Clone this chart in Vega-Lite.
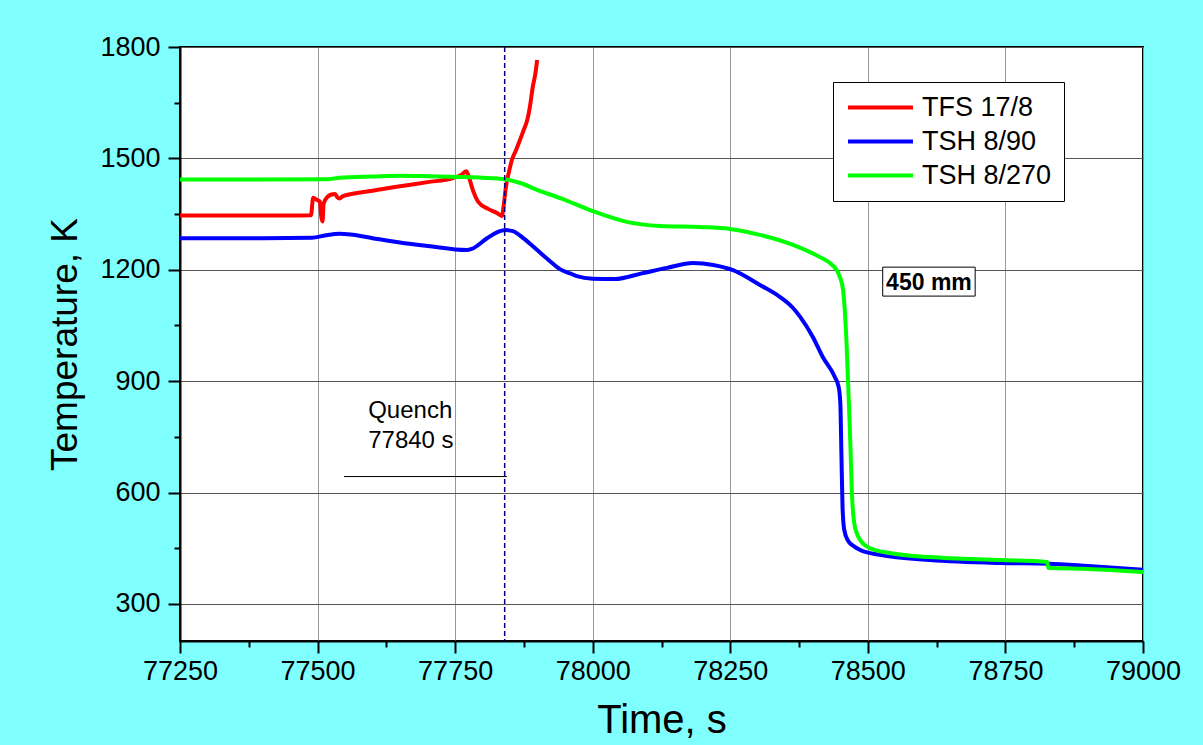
{
  "$schema": "https://vega.github.io/schema/vega-lite/v6.json",
  "width": 963,
  "height": 594,
  "autosize": {"type": "none"},
  "padding": {"left": 180, "top": 47, "right": 60, "bottom": 104},
  "background": "#80FFFF",
  "config": {
    "font": "Liberation Sans",
    "view": {"fill": "white", "stroke": "black", "strokeWidth": 2},
    "axis": {
      "domainColor": "black",
      "domainWidth": 2,
      "tickColor": "black",
      "tickWidth": 2,
      "tickSize": 12,
      "labelColor": "black",
      "labelFontSize": 26,
      "labelFont": "Liberation Sans",
      "titleFont": "Liberation Sans",
      "titleFontSize": 39,
      "titleFontWeight": "normal",
      "titleColor": "black"
    }
  },
  "datasets": {
    "temps": [
      {"t": 77250, "T": 1346, "s": "TFS 17/8"},
      {"t": 77350, "T": 1346, "s": "TFS 17/8"},
      {"t": 77450, "T": 1346, "s": "TFS 17/8"},
      {"t": 77488, "T": 1347, "s": "TFS 17/8"},
      {"t": 77492, "T": 1394, "s": "TFS 17/8"},
      {"t": 77499, "T": 1388, "s": "TFS 17/8"},
      {"t": 77504, "T": 1384, "s": "TFS 17/8"},
      {"t": 77507, "T": 1340, "s": "TFS 17/8"},
      {"t": 77509, "T": 1330, "s": "TFS 17/8"},
      {"t": 77511, "T": 1378, "s": "TFS 17/8"},
      {"t": 77518, "T": 1396, "s": "TFS 17/8"},
      {"t": 77524, "T": 1402, "s": "TFS 17/8"},
      {"t": 77532, "T": 1404, "s": "TFS 17/8"},
      {"t": 77536, "T": 1395, "s": "TFS 17/8"},
      {"t": 77540, "T": 1392, "s": "TFS 17/8"},
      {"t": 77546, "T": 1398, "s": "TFS 17/8"},
      {"t": 77600, "T": 1413, "s": "TFS 17/8"},
      {"t": 77650, "T": 1425, "s": "TFS 17/8"},
      {"t": 77700, "T": 1436, "s": "TFS 17/8"},
      {"t": 77746, "T": 1447, "s": "TFS 17/8"},
      {"t": 77762, "T": 1456, "s": "TFS 17/8"},
      {"t": 77770, "T": 1465, "s": "TFS 17/8"},
      {"t": 77775, "T": 1450, "s": "TFS 17/8"},
      {"t": 77781, "T": 1420, "s": "TFS 17/8"},
      {"t": 77792, "T": 1383, "s": "TFS 17/8"},
      {"t": 77810, "T": 1364, "s": "TFS 17/8"},
      {"t": 77826, "T": 1353, "s": "TFS 17/8"},
      {"t": 77835, "T": 1345, "s": "TFS 17/8"},
      {"t": 77838, "T": 1370, "s": "TFS 17/8"},
      {"t": 77842, "T": 1420, "s": "TFS 17/8"},
      {"t": 77848, "T": 1465, "s": "TFS 17/8"},
      {"t": 77853, "T": 1495, "s": "TFS 17/8"},
      {"t": 77860, "T": 1520, "s": "TFS 17/8"},
      {"t": 77868, "T": 1550, "s": "TFS 17/8"},
      {"t": 77875, "T": 1578, "s": "TFS 17/8"},
      {"t": 77881, "T": 1603, "s": "TFS 17/8"},
      {"t": 77887, "T": 1650, "s": "TFS 17/8"},
      {"t": 77891, "T": 1692, "s": "TFS 17/8"},
      {"t": 77896, "T": 1730, "s": "TFS 17/8"},
      {"t": 77899, "T": 1765, "s": "TFS 17/8"},

      {"t": 77250, "T": 1285, "s": "TSH 8/90"},
      {"t": 77400, "T": 1285, "s": "TSH 8/90"},
      {"t": 77490, "T": 1286, "s": "TSH 8/90"},
      {"t": 77515, "T": 1293, "s": "TSH 8/90"},
      {"t": 77540, "T": 1297, "s": "TSH 8/90"},
      {"t": 77560, "T": 1295, "s": "TSH 8/90"},
      {"t": 77600, "T": 1285, "s": "TSH 8/90"},
      {"t": 77655, "T": 1272, "s": "TSH 8/90"},
      {"t": 77700, "T": 1264, "s": "TSH 8/90"},
      {"t": 77771, "T": 1253, "s": "TSH 8/90"},
      {"t": 77780, "T": 1256, "s": "TSH 8/90"},
      {"t": 77808, "T": 1285, "s": "TSH 8/90"},
      {"t": 77825, "T": 1300, "s": "TSH 8/90"},
      {"t": 77842, "T": 1307, "s": "TSH 8/90"},
      {"t": 77855, "T": 1304, "s": "TSH 8/90"},
      {"t": 77875, "T": 1284, "s": "TSH 8/90"},
      {"t": 77899, "T": 1253, "s": "TSH 8/90"},
      {"t": 77920, "T": 1226, "s": "TSH 8/90"},
      {"t": 77941, "T": 1201, "s": "TSH 8/90"},
      {"t": 77959, "T": 1190, "s": "TSH 8/90"},
      {"t": 77971, "T": 1183, "s": "TSH 8/90"},
      {"t": 78000, "T": 1176, "s": "TSH 8/90"},
      {"t": 78040, "T": 1175, "s": "TSH 8/90"},
      {"t": 78091, "T": 1191, "s": "TSH 8/90"},
      {"t": 78135, "T": 1205, "s": "TSH 8/90"},
      {"t": 78182, "T": 1218, "s": "TSH 8/90"},
      {"t": 78219, "T": 1213, "s": "TSH 8/90"},
      {"t": 78255, "T": 1199, "s": "TSH 8/90"},
      {"t": 78304, "T": 1159, "s": "TSH 8/90"},
      {"t": 78340, "T": 1127, "s": "TSH 8/90"},
      {"t": 78364, "T": 1097, "s": "TSH 8/90"},
      {"t": 78377, "T": 1073, "s": "TSH 8/90"},
      {"t": 78400, "T": 1019, "s": "TSH 8/90"},
      {"t": 78418, "T": 965, "s": "TSH 8/90"},
      {"t": 78440, "T": 911, "s": "TSH 8/90"},
      {"t": 78447, "T": 884, "s": "TSH 8/90"},
      {"t": 78450, "T": 840, "s": "TSH 8/90"},
      {"t": 78452, "T": 700, "s": "TSH 8/90"},
      {"t": 78454, "T": 560, "s": "TSH 8/90"},
      {"t": 78457, "T": 500, "s": "TSH 8/90"},
      {"t": 78464, "T": 470, "s": "TSH 8/90"},
      {"t": 78475, "T": 455, "s": "TSH 8/90"},
      {"t": 78486, "T": 445, "s": "TSH 8/90"},
      {"t": 78522, "T": 432, "s": "TSH 8/90"},
      {"t": 78613, "T": 418, "s": "TSH 8/90"},
      {"t": 78740, "T": 410, "s": "TSH 8/90"},
      {"t": 78828, "T": 408, "s": "TSH 8/90"},
      {"t": 78900, "T": 402, "s": "TSH 8/90"},
      {"t": 79000, "T": 392, "s": "TSH 8/90"},

      {"t": 77250, "T": 1443, "s": "TSH 8/270"},
      {"t": 77400, "T": 1443, "s": "TSH 8/270"},
      {"t": 77520, "T": 1444, "s": "TSH 8/270"},
      {"t": 77540, "T": 1448, "s": "TSH 8/270"},
      {"t": 77600, "T": 1451, "s": "TSH 8/270"},
      {"t": 77650, "T": 1453, "s": "TSH 8/270"},
      {"t": 77700, "T": 1452, "s": "TSH 8/270"},
      {"t": 77760, "T": 1450, "s": "TSH 8/270"},
      {"t": 77800, "T": 1448, "s": "TSH 8/270"},
      {"t": 77840, "T": 1444, "s": "TSH 8/270"},
      {"t": 77870, "T": 1433, "s": "TSH 8/270"},
      {"t": 77899, "T": 1415, "s": "TSH 8/270"},
      {"t": 77941, "T": 1393, "s": "TSH 8/270"},
      {"t": 78000, "T": 1358, "s": "TSH 8/270"},
      {"t": 78062, "T": 1329, "s": "TSH 8/270"},
      {"t": 78122, "T": 1318, "s": "TSH 8/270"},
      {"t": 78195, "T": 1315, "s": "TSH 8/270"},
      {"t": 78249, "T": 1310, "s": "TSH 8/270"},
      {"t": 78304, "T": 1294, "s": "TSH 8/270"},
      {"t": 78364, "T": 1267, "s": "TSH 8/270"},
      {"t": 78413, "T": 1234, "s": "TSH 8/270"},
      {"t": 78431, "T": 1218, "s": "TSH 8/270"},
      {"t": 78443, "T": 1200, "s": "TSH 8/270"},
      {"t": 78449, "T": 1181, "s": "TSH 8/270"},
      {"t": 78455, "T": 1145, "s": "TSH 8/270"},
      {"t": 78461, "T": 1011, "s": "TSH 8/270"},
      {"t": 78465, "T": 860, "s": "TSH 8/270"},
      {"t": 78468, "T": 741, "s": "TSH 8/270"},
      {"t": 78471, "T": 599, "s": "TSH 8/270"},
      {"t": 78475, "T": 520, "s": "TSH 8/270"},
      {"t": 78480, "T": 490, "s": "TSH 8/270"},
      {"t": 78486, "T": 472, "s": "TSH 8/270"},
      {"t": 78504, "T": 450, "s": "TSH 8/270"},
      {"t": 78540, "T": 437, "s": "TSH 8/270"},
      {"t": 78613, "T": 426, "s": "TSH 8/270"},
      {"t": 78740, "T": 418, "s": "TSH 8/270"},
      {"t": 78826, "T": 413, "s": "TSH 8/270"},
      {"t": 78828, "T": 397, "s": "TSH 8/270"},
      {"t": 78900, "T": 394, "s": "TSH 8/270"},
      {"t": 79000, "T": 386, "s": "TSH 8/270"}
    ],
    "notes": [
      {"t": 77592, "T": 820, "label": "Quench"},
      {"t": 77592, "T": 739, "label": "77840 s"}
    ],
    "quench": [{"t": 77840}],
    "pointer": [{"t": 77548, "t2": 77844, "T": 643}],
    "tag": [{"t": 78611, "T": 1167, "t1": 78527, "t2": 78695, "T1": 1207, "T2": 1129, "label": "450 mm"}],
    "minor": [{"t": 77250, "T": 200}]
  },
  "resolve": {"axis": {"x": "independent", "y": "independent"}},
  "layer": [
    {
      "data": {"name": "minor"},
      "mark": {"type": "point", "opacity": 0},
      "encoding": {
        "x": {
          "field": "t", "type": "quantitative",
          "scale": {"domain": [77250, 79000], "nice": false, "zero": false},
          "axis": {"orient": "bottom", "values": [77375, 77625, 77875, 78125, 78375, 78625, 78875], "labels": false, "grid": false, "domain": false, "tickSize": 6, "tickWidth": 2, "tickColor": "black", "title": null}
        },
        "y": {
          "field": "T", "type": "quantitative",
          "scale": {"domain": [200, 1800], "nice": false, "zero": false},
          "axis": {"orient": "left", "values": [450, 750, 1050, 1350, 1650], "labels": false, "grid": false, "domain": false, "tickSize": 6, "tickWidth": 2, "tickColor": "black", "title": null}
        }
      }
    },
    {
      "data": {"name": "temps"},
      "mark": {"type": "line", "strokeWidth": 4, "interpolate": "monotone"},
      "encoding": {
        "x": {
          "field": "t", "type": "quantitative",
          "scale": {"domain": [77250, 79000], "nice": false, "zero": false},
          "axis": {"orient": "bottom", "values": [77250, 77500, 77750, 78000, 78250, 78500, 78750, 79000], "format": "d", "grid": true, "gridColor": "#999999", "gridWidth": 1, "labelFontSize": 27, "labelFlush": false, "labelBound": false, "labelOverlap": false, "labelPadding": 5, "title": "Time, s", "titleFontSize": 40, "titlePadding": 16}
        },
        "y": {
          "field": "T", "type": "quantitative",
          "scale": {"domain": [200, 1800], "nice": false, "zero": false},
          "axis": {"orient": "left", "values": [300, 600, 900, 1200, 1500, 1800], "format": "d", "grid": true, "gridColor": "#555555", "gridWidth": 1, "labelFontSize": 27, "labelFlush": false, "labelBound": false, "labelOverlap": false, "labelPadding": 8, "title": "Temperature, K", "titleFontSize": 37, "titlePadding": 15}
        },
        "color": {
          "field": "s", "type": "nominal",
          "scale": {"domain": ["TFS 17/8", "TSH 8/90", "TSH 8/270"], "range": ["#FF0000", "#0000FF", "#00FF00"]},
          "legend": {
            "title": null,
            "orient": "none",
            "legendX": 653,
            "legendY": 35,
            "fillColor": "white",
            "strokeColor": "black",
            "padding": 12,
            "rowPadding": 6,
            "symbolType": "M-4,0H4",
            "symbolSize": 264,
            "symbolOffset": 22,
            "symbolStrokeWidth": 4,
            "labelFontSize": 27,
            "labelFont": "Liberation Sans",
            "labelColor": "black",
            "labelOffset": 28,
            "labelLimit": 300
          }
        },
        "order": {"field": "t", "type": "quantitative"}
      }
    },
    {
      "data": {"name": "quench"},
      "mark": {"type": "rule", "color": "#000080", "strokeWidth": 1.5, "strokeDash": [5, 3]},
      "encoding": {
        "x": {"field": "t", "type": "quantitative", "axis": null}
      }
    },
    {
      "data": {"name": "pointer"},
      "mark": {"type": "rule", "color": "black", "strokeWidth": 1},
      "encoding": {
        "x": {"field": "t", "type": "quantitative", "axis": null},
        "x2": {"field": "t2"},
        "y": {"field": "T", "type": "quantitative", "axis": null}
      }
    },
    {
      "data": {"name": "notes"},
      "mark": {"type": "text", "align": "left", "baseline": "middle", "fontSize": 24, "font": "Liberation Sans", "color": "black"},
      "encoding": {
        "x": {"field": "t", "type": "quantitative", "axis": null},
        "y": {"field": "T", "type": "quantitative", "axis": null},
        "text": {"field": "label"}
      }
    },
    {
      "data": {"name": "tag"},
      "mark": {"type": "rect", "fill": "white", "stroke": "black", "strokeWidth": 1},
      "encoding": {
        "x": {"field": "t1", "type": "quantitative", "axis": null},
        "x2": {"field": "t2"},
        "y": {"field": "T1", "type": "quantitative", "axis": null},
        "y2": {"field": "T2"}
      }
    },
    {
      "data": {"name": "tag"},
      "mark": {"type": "text", "align": "center", "baseline": "middle", "fontSize": 23, "fontWeight": "bold", "font": "Liberation Sans", "color": "black", "dy": 1},
      "encoding": {
        "x": {"field": "t", "type": "quantitative", "axis": null},
        "y": {"field": "T", "type": "quantitative", "axis": null},
        "text": {"field": "label"}
      }
    }
  ]
}
